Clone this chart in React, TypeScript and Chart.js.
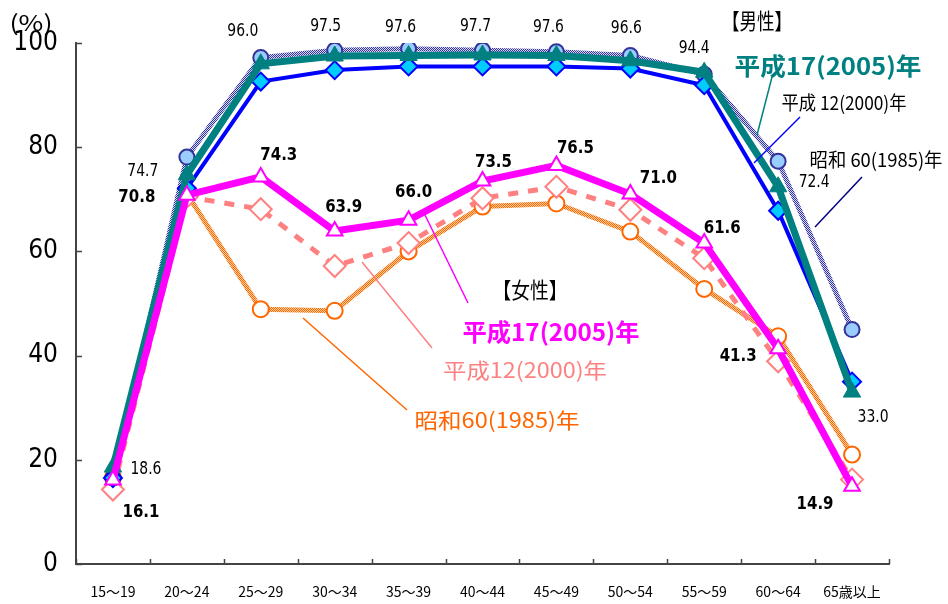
import React, { useEffect, useRef } from 'react';
import { Chart, registerables } from 'chart.js';
Chart.register(...registerables);

// ---- data ----
const categories = ['15～19', '20～24', '25～29', '30～34', '35～39', '40～44', '45～49', '50～54', '55～59', '60～64', '65歳以上'];
const yTicks = [0, 20, 40, 60, 80, 100];

const male2005 = [18.6, 74.7, 96.0, 97.5, 97.6, 97.7, 97.6, 96.6, 94.4, 72.4, 33.0];
const male2000 = [16.5, 72.1, 92.6, 94.8, 95.5, 95.5, 95.5, 95.1, 91.9, 67.8, 35.0];
const male1985 = [16.5, 78.1, 97.2, 98.6, 98.9, 98.6, 98.3, 97.6, 94.0, 77.3, 45.0];

const female2005 = [16.1, 70.8, 74.3, 63.9, 66.0, 73.5, 76.5, 71.0, 61.6, 41.3, 14.9];
const female2000 = [14.3, 70.5, 68.1, 57.2, 61.6, 70.2, 72.4, 68.0, 58.7, 38.9, 16.2];
const female1985 = [16.6, 71.1, 48.9, 48.6, 60.0, 68.6, 69.2, 63.8, 52.8, 43.7, 21.0];

// label offsets (px) relative to the data point
const male2005LabelOffsets = [[33, 2], [-44, -3], [-18, -32], [-9, -29], [-8, -28], [-7, -28], [-8, -28], [-4, -32], [-10, -24], [36, -4], [21, 26]];
const female2005LabelOffsets = [[28, 32], [-50, 2], [18, -22], [9, -24], [5, -28], [11, -19], [19, -17], [28, -16], [18, -15], [-40, 8], [-37, 18]];

const JP = '"Noto Sans CJK JP", "Noto Sans", sans-serif';
const NARROW = '"Liberation Sans Narrow", "DejaVu Sans Condensed", "Noto Sans CJK JP", sans-serif';

type Callout = { text: string; x: number; y: number; font: string; color: string; w: number };
const callouts: Callout[] = [
  { text: '(%)', x: 31, y: 23, font: `22px ${JP}`, color: '#000', w: 43 },
  { text: '【男性】', x: 757, y: 21, font: `22px ${JP}`, color: '#000', w: 70 },
  { text: '平成17(2005)年', x: 828, y: 66, font: `bold 24px ${JP}`, color: '#008080', w: 187 },
  { text: '平成 12(2000)年', x: 844, y: 103, font: `19px ${JP}`, color: '#000', w: 125 },
  { text: '昭和 60(1985)年', x: 876, y: 160, font: `19px ${JP}`, color: '#000', w: 133 },
  { text: '【女性】', x: 530, y: 290, font: `22px ${JP}`, color: '#000', w: 75 },
  { text: '平成17(2005)年', x: 551, y: 332, font: `bold 24px ${JP}`, color: '#ff00ff', w: 177 },
  { text: '平成12(2000)年', x: 525, y: 370, font: `21px ${JP}`, color: '#ff8080', w: 164 },
  { text: '昭和60(1985)年', x: 497, y: 420, font: `21px ${JP}`, color: '#ff6600', w: 165 },
];
const leaders: { from: number[]; to: number[]; color: string }[] = [
  { from: [772, 77], to: [757, 135], color: '#008080' },
  { from: [800, 117], to: [754, 163], color: '#0000ff' },
  { from: [862, 177], to: [815, 227], color: '#000080' },
  { from: [425, 215], to: [468, 303], color: '#ff00ff' },
  { from: [362, 262], to: [432, 348], color: '#ff8080' },
  { from: [303, 318], to: [407, 410], color: '#ff6600' },
];

function hatch(fg: string, bg: string): CanvasPattern | string {
  const c = document.createElement('canvas');
  c.width = 2; c.height = 2;
  const g = c.getContext('2d');
  if (!g) return fg;
  g.fillStyle = bg; g.fillRect(0, 0, 2, 2);
  g.fillStyle = fg; g.fillRect(0, 0, 1, 1); g.fillRect(1, 1, 1, 1);
  return g.createPattern(c, 'repeat') || fg;
}

function drawFit(ctx: CanvasRenderingContext2D, text: string, x: number, y: number, font: string, color: string, w: number) {
  ctx.save();
  ctx.font = font;
  ctx.fillStyle = color;
  ctx.textAlign = 'center';
  ctx.textBaseline = 'middle';
  const m = ctx.measureText(text).width || 1;
  ctx.translate(x, y);
  ctx.scale(w / m, 1);
  ctx.fillText(text, 0, 0);
  ctx.restore();
}

const annotPlugin = {
  id: 'annot',
  afterDraw(chart: any) {
    const { ctx, chartArea } = chart;
    const xs = chart.scales.x;
    const ys = chart.scales.y;
    ctx.save();
    // inner tick marks
    ctx.strokeStyle = '#444';
    ctx.lineWidth = 1.5;
    ctx.beginPath();
    for (let i = 0; i <= categories.length; i++) {
      const x = Math.round(xs.getPixelForValue(i - 0.5)) + 0.5;
      ctx.moveTo(x, chartArea.bottom);
      ctx.lineTo(x, chartArea.bottom - 5);
    }
    yTicks.forEach((v) => {
      const y = Math.round(ys.getPixelForValue(v)) + 0.5;
      ctx.moveTo(chartArea.left, y);
      ctx.lineTo(chartArea.left + 6, y);
    });
    ctx.stroke();
    // leader lines
    ctx.lineWidth = 1.5;
    leaders.forEach((l) => {
      ctx.strokeStyle = l.color;
      ctx.beginPath();
      ctx.moveTo(l.from[0], l.from[1]);
      ctx.lineTo(l.to[0], l.to[1]);
      ctx.stroke();
    });
    ctx.restore();
    // data labels
    male2005.forEach((v, i) => {
      const x = xs.getPixelForValue(i) + male2005LabelOffsets[i][0];
      const y = ys.getPixelForValue(v) + male2005LabelOffsets[i][1];
      drawFit(ctx, v.toFixed(1), x, y, `17px ${NARROW}`, '#000', 31);
    });
    female2005.forEach((v, i) => {
      const x = xs.getPixelForValue(i) + female2005LabelOffsets[i][0];
      const y = ys.getPixelForValue(v) + female2005LabelOffsets[i][1];
      drawFit(ctx, v.toFixed(1), x, y, `bold 18px ${NARROW}`, '#000', 37);
    });
    callouts.forEach((c) => drawFit(ctx, c.text, c.x, c.y, c.font, c.color, c.w));
  },
};

export default function App() {
  const ref = useRef<HTMLCanvasElement>(null);
  useEffect(() => {
    if (!ref.current) return;
    const navyHatch = hatch('#333399', '#d8d8ff');
    const orangeHatch = hatch('#ff6600', '#ffd0a0');
    const chart = new Chart(ref.current, {
      type: 'line',
      data: {
        labels: categories,
        datasets: [
          {
            label: '女性 平成17(2005)年', data: female2005,
            borderColor: '#ff00ff', borderWidth: 7, backgroundColor: '#ffffff',
            pointStyle: 'triangle', pointRadius: 9, pointBorderColor: '#ff00ff', pointBackgroundColor: '#ffffff', pointBorderWidth: 2,
          },
          {
            label: '男性 平成17(2005)年', data: male2005,
            borderColor: '#008080', borderWidth: 7, backgroundColor: '#008080',
            pointStyle: 'triangle', pointRadius: 10, pointBorderColor: '#008080', pointBackgroundColor: '#008080', pointBorderWidth: 1,
          },
          {
            label: '男性 平成12(2000)年', data: male2000,
            borderColor: '#0000ff', borderWidth: 4, backgroundColor: '#00ccff',
            pointStyle: 'rectRot', pointRadius: 9, pointBorderColor: '#0000ff', pointBackgroundColor: '#00ccff', pointBorderWidth: 2,
          },
          {
            label: '男性 昭和60(1985)年', data: male1985,
            borderColor: navyHatch as any, borderWidth: 5, backgroundColor: '#99ccff',
            pointStyle: 'circle', pointRadius: 7.5, pointBorderColor: '#333399', pointBackgroundColor: '#99ccff', pointBorderWidth: 2,
          },
          {
            label: '女性 平成12(2000)年', data: female2000,
            borderColor: '#ff8080', borderWidth: 5, borderDash: [10, 10], backgroundColor: '#ffffff',
            pointStyle: 'rectRot', pointRadius: 11, pointBorderColor: '#ff8080', pointBackgroundColor: '#ffffff', pointBorderWidth: 2,
          },
          {
            label: '女性 昭和60(1985)年', data: female1985,
            borderColor: orangeHatch as any, borderWidth: 5, backgroundColor: '#ffffff',
            pointStyle: 'circle', pointRadius: 8, pointBorderColor: '#ff6600', pointBackgroundColor: '#ffffff', pointBorderWidth: 2,
          },
        ],
      },
      options: {
        responsive: false,
        animation: false,
        devicePixelRatio: 1,
        layout: { padding: { left: 8, top: 43, right: 59, bottom: 0 } },
        elements: { line: { tension: 0 } },
        plugins: { legend: { display: false }, tooltip: { enabled: false } },
        scales: {
          x: {
            type: 'category',
            offset: true,
            grid: { display: false, offset: true, drawTicks: false },
            border: { display: true, color: '#444', width: 2 },
            ticks: { color: '#000', font: { family: JP, size: 14 }, padding: 19, maxRotation: 0, autoSkip: false },
            afterFit: (s: any) => { s.height = 40; },
          },
          y: {
            min: 0, max: 100,
            grid: { display: false, drawTicks: false },
            border: { display: true, color: '#444', width: 2 },
            ticks: { color: '#000', font: { family: NARROW, size: 26 }, padding: 18 },
            afterBuildTicks: (s: any) => { s.ticks = yTicks.map((v) => ({ value: v })); },
            afterFit: (s: any) => { s.width = 68; },
          },
        },
      },
      plugins: [annotPlugin],
    });
    return () => chart.destroy();
  }, []);
  return (
    <div style={{ position: 'absolute', left: 0, top: 0, width: 948, height: 604, background: '#fff' }}>
      <canvas ref={ref} width={948} height={604} style={{ width: 948, height: 604, display: 'block' }} />
    </div>
  );
}
